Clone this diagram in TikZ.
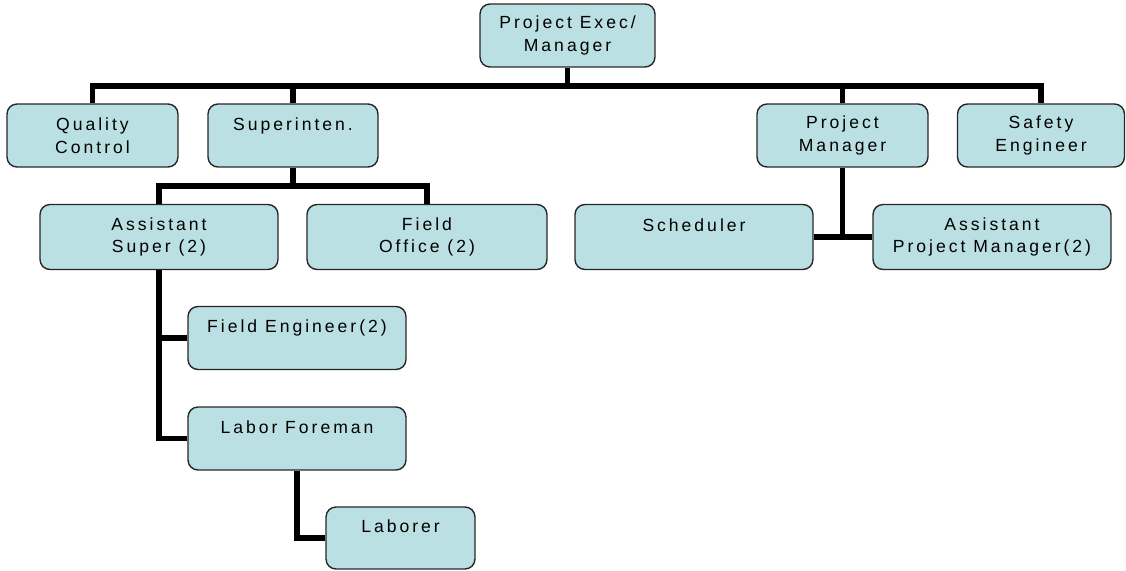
\documentclass[tikz,border=0pt]{standalone}
\usepackage{fontspec}
\setmainfont{Liberation Sans}[LetterSpace=17]
\usepackage{tikz}
\usetikzlibrary{calc,positioning}
\definecolor{boxfill}{RGB}{187,224,227}
\tikzset{% org chart boxes and their links
	orgbox/.style={draw=black!85,fill=boxfill,rounded corners=0.2cm,line width=0.8pt,
		align=center,minimum height=1.26cm,inner sep=2pt,font=\fontsize{10}{13}\selectfont},
	orgline/.style={line width=3.1pt,black}
}

\begin{document}
\begin{tikzpicture}[x=0.02cm,y=-0.02cm]
\useasboundingbox (0,0) rectangle (1126,571);
% top
\node[orgbox,minimum width=3.5cm] (exec) at (567.5,35.5) {Project Exec/\\Manager};
% first row
\node[orgbox,minimum width=3.42cm] (qc) at (92.5,135.5) {Quality\\Control};
\node[orgbox,minimum width=3.4cm] (sup) at (293,135.5) {Superinten.\\~};
\node[orgbox,minimum width=3.42cm] (pm) at (842.5,135.5) {Project\\Manager};
\node[orgbox,minimum width=3.34cm] (safe) at (1041,135.5) {Safety\\Engineer};
% second row
\node[orgbox,minimum width=4.76cm,minimum height=1.3cm] (asup) at (159,237) {Assistant\\Super (2)};
\node[orgbox,minimum width=4.8cm,minimum height=1.3cm] (fo) at (427,237) {Field\\Office (2)};
\node[orgbox,minimum width=4.76cm,minimum height=1.3cm] (sched) at (694,237) {Scheduler\\~};
\node[orgbox,minimum width=4.76cm,minimum height=1.3cm] (apm) at (992,237) {Assistant\\Project Manager(2)};
% under the assistant super
\node[orgbox,minimum width=4.36cm] (fe) at (297,338) {Field Engineer(2)\\~};
\node[orgbox,minimum width=4.36cm] (lf) at (297,438.5) {Labor Foreman\\~};
\node[orgbox,minimum width=2.98cm,minimum height=1.24cm] (lab) at (400.5,538) {Laborer\\~};
% links
\coordinate (top bar) at (567.5,86);
\coordinate (sup bar) at (293,186);
\draw[orgline] (exec) -- (top bar);
\draw[orgline] (qc.north) |- (top bar) -| (safe.north);
\draw[orgline] (sup.north) |- (top bar);
\draw[orgline] (pm.north) |- (top bar);
\draw[orgline] (sup) -- (sup bar);
\draw[orgline] (asup.north) |- (sup bar) -| (fo.north);
\draw[orgline] (pm) -- (pm.south |- sched.east);
\draw[orgline] (sched) -- (apm);
\draw[orgline] (asup.south) |- (fe.west);
\draw[orgline] (asup.south) |- (lf.west);
\draw[orgline] (lf.south) |- (lab.west);
\end{tikzpicture}
\end{document}
